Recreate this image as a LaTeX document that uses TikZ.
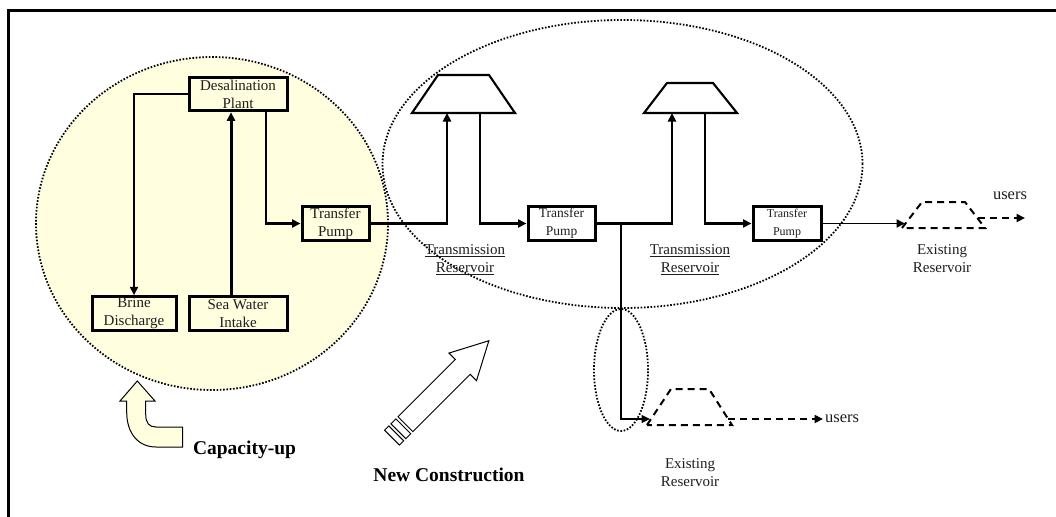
\documentclass[tikz,border=0pt]{standalone}
\usepackage{fontspec}
\setmainfont{Liberation Serif}
\usetikzlibrary{arrows.meta}
\definecolor{paleyel}{RGB}{255,255,224}
\definecolor{txt}{RGB}{30,30,30}
\begin{document}
\begin{tikzpicture}[x=1pt,y=-1pt,
  box/.style={draw, line width=3pt, minimum width=#1, minimum height=33.5pt, inner sep=1pt, align=center, text=txt, font=\fontsize{15}{18}\selectfont},
  box/.default=67pt,
  lbl/.style={align=center, text=txt, inner sep=2pt, font=\fontsize{15}{18}\selectfont},
  bold/.style={text=black, inner sep=2pt, font=\fontsize{19.5}{22}\selectfont\bfseries},
  dots/.style={line width=1.8pt, dash pattern=on 1.6pt off 1.7pt},
  tip/.style={-{Triangle[length=8.5pt,width=8pt]}},
  conn/.style={line width=2.4pt, tip},
  thin/.style={line width=1.5pt, tip},
  res/.style={draw, line width=2.1pt, line join=miter},
  eres/.style={draw, line width=2pt, dash pattern=on 7pt off 5pt},
  hollow/.style={draw, line width=1pt, line join=miter}]
\useasboundingbox (0,0) rectangle (1056,516);
% frame
\draw[line width=3pt] (8,517) -- (8,11) -- (1057,11);
% regions
\fill[paleyel] (212,223.5) ellipse [x radius=176pt, y radius=166.5pt];
\draw[dots] (212,223.5) ellipse [x radius=176pt, y radius=166.5pt];
\draw[dots] (622.5,164) ellipse [x radius=240pt, y radius=144pt];
\draw[dots] (621,370) ellipse [x radius=27pt, y radius=61pt];
% boxes
\node[box=98pt] (desal) at (238,94) {Desalination\\Plant};
\node[box=67pt] (tp1) at (335.5,223.5) {Transfer\\Pump};
\node[box=84pt] (brine) at (134,313.5) {Brine\\Discharge};
\node[box=98pt] (sea) at (238,313.5) {Sea Water\\Intake};
\node[box=67pt, font=\fontsize{13.5}{18}\selectfont] (tp2) at (561.5,223.5) {Transfer\\Pump};
\node[box=68pt, font=\fontsize{12}{18}\selectfont] (tp3) at (787,223.5) {Transfer\\Pump};
% reservoirs
\draw[res] (412,113) -- (438,75) -- (489,75) -- (515,113) -- cycle;
\coordinate (r1in) at (447,113);
\coordinate (r1out) at (480,113);
\draw[res] (644,113) -- (667,83) -- (713,83) -- (737,113) -- cycle;
\coordinate (r2in) at (672,113);
\coordinate (r2out) at (705,113);
\draw[eres] (902,228) -- (922,202) -- (965,202) -- (985,228) -- cycle;
\coordinate (er1in) at (905,223.5);
\coordinate (er1out) at (978,218);
\coordinate (u1end) at (1025,218);
\draw[eres] (647,425) -- (671,389) -- (709,389) -- (732,425) -- cycle;
\coordinate (er2in) at (650,419);
\coordinate (er2out) at (728,419);
\coordinate (jn) at (621,223.5);
% labels
\node[lbl] (tl1) at (465,260) {\underline{Transmission}\\\underline{Reservoir}};
\node[lbl] (tl2) at (690,260) {\underline{Transmission}\\\underline{Reservoir}};
\node[lbl] (el1) at (942,259) {Existing\\Reservoir};
\node[lbl] (el2) at (690,473) {Existing\\Reservoir};
\node[lbl, font=\fontsize{16.5}{18}\selectfont] (u1) at (1010,196) {users};
\node[lbl, font=\fontsize{16.5}{18}\selectfont, anchor=west] (u2) at (823,419) {users};
\node[bold] (cap) at (244.5,450) {Capacity-up};
\node[bold] (newc) at (449,475) {New Construction};
% connectors
\draw[conn] (desal.west) -| (brine.north);
\draw[line width=3pt, tip] ([xshift=-7pt]sea.north) -- ([xshift=-7pt]desal.south);
\draw[conn] ([xshift=28pt]desal.south) |- (tp1.west);
\draw[conn] (tp1.east) -| (r1in);
\draw[conn] (r1out) |- (tp2.west);
\draw[conn] (tp2.east) -| (r2in);
\draw[conn] (r2out) |- (tp3.west);
\draw[thin] (jn) |- (er2in);
\draw[line width=1.9pt, tip] (tp3.east) -- (er1in);
\draw[line width=2pt, dash pattern=on 7pt off 5pt, tip] (er1out) -- (u1end);
\draw[line width=2pt, dash pattern=on 7pt off 5pt, tip] (er2out) -- (u2.west);
% capacity-up arrow
\draw[hollow, fill=paleyel] (137.3,381) -- (155,401) -- (145.7,401) -- (145.7,414)
  .. controls (145.7,423) and (149,427) .. (156,427) -- (182.7,427) -- (182.7,447)
  -- (156,447) .. controls (138,447) and (126.7,433) .. (126.7,412) -- (126.7,401)
  -- (120,401) -- cycle;
% new construction arrow
\begin{scope}[shift={(392,437.6)}, rotate=45]
  \draw[hollow, fill=white] (0,-10.5) rectangle (6,10.5);
  \draw[hollow, fill=white] (9,-10.5) rectangle (16,10.5);
  \draw[hollow, fill=white] (19,-10.5) -- (100,-10.5) -- (100,-19.5) -- (137,0)
    -- (100,19.5) -- (100,10.5) -- (19,10.5) -- cycle;
\end{scope}
\end{tikzpicture}
\end{document}
